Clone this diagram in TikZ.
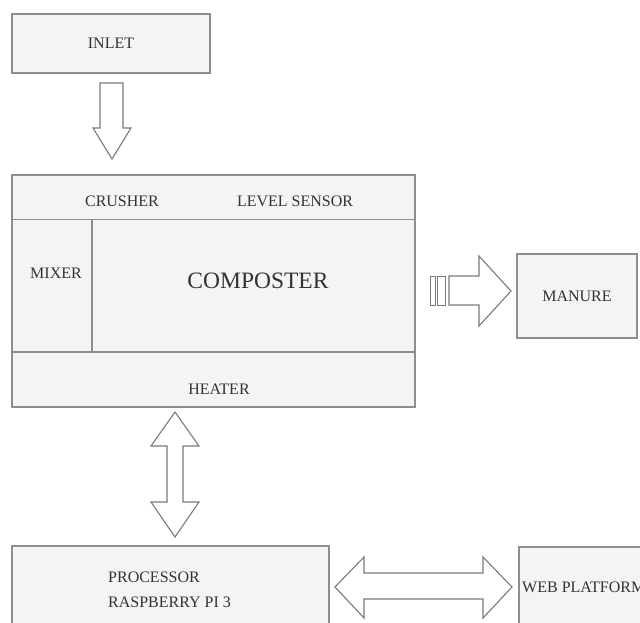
\documentclass[tikz,border=0pt]{standalone}
\usepackage{fontspec}
\setmainfont{Liberation Serif}
\begin{document}
\begin{tikzpicture}[x=1pt,y=-1pt,
  box/.style={draw=boxline, fill=boxfill, line width=1.2pt, inner sep=0pt, text=txt,
    font=\fontsize{16}{16}\selectfont},
  lbl/.style={inner sep=0pt, text=txt, font=\fontsize{16}{16}\selectfont},
  blockarrow/.style={draw=arrline, fill=white, line width=1.1pt, line join=miter}]
\definecolor{boxfill}{HTML}{F4F4F4}
\definecolor{boxline}{HTML}{8E8E8E}
\definecolor{arrline}{HTML}{7A7A7A}
\definecolor{txt}{HTML}{333333}
\useasboundingbox (0,0) rectangle (640,622);
\clip (0,0) rectangle (640,622);

% INLET
\node[box, minimum width=198pt, minimum height=59pt] (inlet) at (111,43.5) {INLET};

% Composter block
\node[box, minimum width=403pt, minimum height=232pt] (comp) at (213.5,291) {};
\draw[draw=boxline, line width=1.2pt] (12,219.5) -- (415,219.5);
\draw[draw=boxline, line width=1.2pt] (12,352) -- (415,352);
\draw[draw=boxline, line width=1.2pt] (92,219.5) -- (92,352);
\node[lbl] (crusher) at (122,201) {CRUSHER};
\node[lbl] (level) at (295,201) {LEVEL SENSOR};
\node[lbl] (mixer) at (56,273) {MIXER};
\node[lbl, font=\fontsize{23.5}{24}\selectfont] (composter) at (258,281) {COMPOSTER};
\node[lbl] (heater) at (219,389) {HEATER};

% MANURE
\node[box, minimum width=120pt, minimum height=84pt] (manure) at (577,296) {MANURE};

% PROCESSOR
\node[box, minimum width=317pt, minimum height=100pt] (proc) at (170.5,596) {};
\node[lbl, anchor=west] (p1) at (108,577) {PROCESSOR};
\node[lbl, anchor=west] (p2) at (108,602) {RASPBERRY PI 3};

% WEB PLATFORM
\node[box, minimum width=140pt, minimum height=100pt] (web) at (589,597) {};
\node[lbl, anchor=west] (w1) at (522,587) {WEB PLATFORM};

% Inlet -> composter arrow
\draw[blockarrow] (100,83) -- (123,83) -- (123,128) -- (131,128) -- (112,159)
  -- (93,128) -- (100,128) -- cycle;

% Composter -> manure striped arrow
\draw[blockarrow, line width=0.9pt] (430,276) rectangle (435,305);
\draw[blockarrow, line width=0.9pt] (437,276) rectangle (445,305);
\draw[blockarrow] (449,276) -- (479,276) -- (479,256) -- (511,291) -- (479,326)
  -- (479,305) -- (449,305) -- cycle;

% Composter <-> processor double arrow
\draw[blockarrow] (175,412) -- (199,446) -- (183,446) -- (183,502) -- (199,502)
  -- (175,537) -- (151,502) -- (167,502) -- (167,446) -- (151,446) -- cycle;

% Processor <-> web platform double arrow
\draw[blockarrow] (335,587) -- (364,557) -- (364,573) -- (483,573) -- (483,557)
  -- (512,587) -- (483,618) -- (483,599) -- (364,599) -- (364,618) -- cycle;
\end{tikzpicture}
\end{document}
